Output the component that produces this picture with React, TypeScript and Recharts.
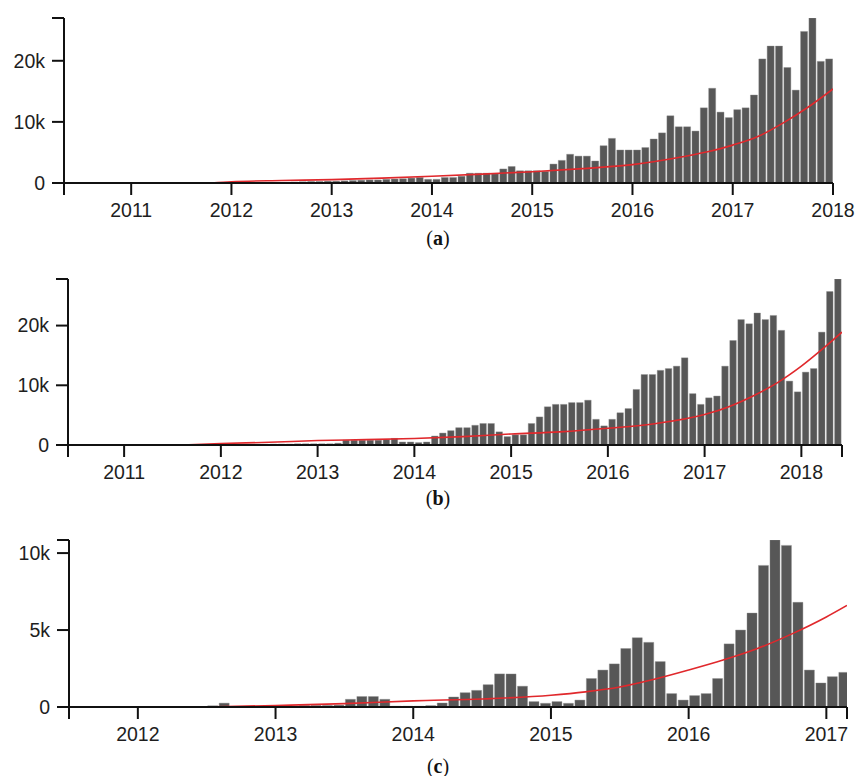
import React from 'react';
import { ComposedChart, Bar, Line, XAxis, YAxis } from 'recharts';

// ---- Panel (a): monthly counts (thousands), starting Aug 2012 ----
const startA = { year: 2012, month: 7 };
const valuesA = [
  0.15, 0.2, 0.25, 0.25, 0.3,
  0.3, 0.35, 0.4, 0.45, 0.5, 0.5, 0.6, 0.65, 0.7, 0.8, 0.9, 0.6,
  0.6, 0.9, 0.9, 1.1, 1.6, 1.6, 1.6, 1.5, 2.3, 2.7, 2.0, 2.0,
  2.0, 1.9, 3.1, 3.7, 4.7, 4.4, 4.4, 3.6, 6.1, 7.3, 5.4, 5.4,
  5.4, 5.8, 7.2, 8.2, 11.0, 9.2, 9.2, 8.5, 12.3, 15.5, 11.6, 10.7,
  12.0, 12.3, 14.4, 20.3, 22.4, 22.4, 18.9, 15.2, 24.8, 27.0, 19.9, 20.3,
];
const trendYearsA = [2011.8, 2012.0, 2012.5, 2013.0, 2013.5, 2014.0, 2014.5, 2015.0, 2015.5, 2016.0, 2016.5, 2016.75, 2017.0, 2017.25, 2017.5, 2017.75, 2018.0];
const trendValuesA = [0, 0.2, 0.4, 0.55, 0.8, 1.1, 1.45, 1.85, 2.35, 3.0, 4.3, 5.1, 6.2, 7.6, 9.8, 12.4, 15.4];
const yearTicksA = [2011, 2012, 2013, 2014, 2015, 2016, 2017, 2018];
const domainA: [number, number] = [2010.33, 2018];

// ---- Panel (b): monthly counts (thousands), starting May 2012 ----
const startB = { year: 2012, month: 4 };
const valuesB = [
  0.1, 0.1, 0.15, 0.15, 0.15, 0.2, 0.2, 0.2,
  0.2, 0.2, 0.3, 0.8, 0.8, 0.8, 0.8, 0.8, 0.9, 1.1, 0.5, 0.5,
  0.4, 0.5, 1.5, 2.0, 2.4, 2.9, 2.9, 3.3, 3.6, 3.6, 2.2, 1.4,
  1.7, 1.7, 3.6, 4.7, 6.4, 6.8, 6.8, 7.1, 7.1, 7.5, 4.3, 3.2,
  4.3, 5.4, 6.1, 9.3, 11.8, 11.8, 12.5, 12.8, 13.2, 14.6, 8.6, 6.8,
  7.9, 8.2, 13.2, 17.5, 21.0, 20.3, 22.1, 21.0, 21.7, 19.2, 10.7, 8.9,
  12.2, 12.8, 18.9, 25.7, 27.8,
];
const trendYearsB = [2011.6, 2012.0, 2012.5, 2013.0, 2013.5, 2014.0, 2014.5, 2015.0, 2015.5, 2016.0, 2016.5, 2017.0, 2017.25, 2017.5, 2017.75, 2018.0, 2018.25, 2018.42];
const trendValuesB = [0, 0.25, 0.45, 0.75, 0.9, 1.1, 1.4, 1.85, 2.2, 2.8, 3.6, 5.1, 6.4, 8.2, 10.4, 13.2, 16.5, 18.9];
const yearTicksB = [2011, 2012, 2013, 2014, 2015, 2016, 2017, 2018];
const domainB: [number, number] = [2010.42, 2018.42];

// ---- Panel (c): monthly counts (thousands), starting Jul 2012 ----
const startC = { year: 2012, month: 6 };
const valuesC = [
  0.08, 0.25, 0.03, 0.03, 0.03, 0.03,
  0.05, 0.05, 0.1, 0.1, 0.1, 0.12, 0.5, 0.68, 0.68, 0.5, 0.05, 0.05,
  0.05, 0.09, 0.26, 0.65, 0.93, 1.08, 1.45, 2.15, 2.15, 1.35, 0.35, 0.24,
  0.35, 0.24, 0.45, 1.85, 2.4, 2.8, 3.8, 4.5, 4.2, 2.95, 0.87, 0.45,
  0.74, 0.87, 1.85, 4.1, 5.0, 6.1, 9.2, 10.85, 10.5, 6.8, 2.4, 1.56,
  1.97, 2.25,
];
const trendYearsC = [2012.49, 2013.0, 2013.5, 2014.0, 2014.5, 2015.0, 2015.25, 2015.5, 2015.75, 2016.0, 2016.25, 2016.5, 2016.75, 2017.0, 2017.15];
const trendValuesC = [0, 0.1, 0.22, 0.4, 0.52, 0.76, 0.98, 1.3, 1.8, 2.4, 3.05, 3.8, 4.75, 5.85, 6.6];
const yearTicksC = [2012, 2013, 2014, 2015, 2016, 2017];
const domainC: [number, number] = [2011.5, 2017.15];

const yTicksAB = [0, 10000, 20000];
const yTicksC = [0, 5000, 10000];

function buildBars(start: { year: number; month: number }, values: number[]) {
  return values.map((v, i) => {
    const mi = start.month + i;
    const year = start.year + Math.floor(mi / 12);
    const month = mi % 12;
    return { x: year + (month + 0.5) / 12, v: v * 1000 };
  });
}

function buildTrend(years: number[], values: number[]) {
  return years.map((y, i) => ({ x: y, t: values[i] * 1000 }));
}

const tickStyle = { fontFamily: '"Liberation Sans", Arial, sans-serif', fontSize: 19.5, fill: '#1e1e1e' };

type PanelProps = {
  bars: { x: number; v: number }[];
  trend: { x: number; t: number }[];
  domain: [number, number];
  yearTicks: number[];
  yTicks: number[];
  yAxisWidth: number;
  margin: { top: number; right: number; bottom: number; left: number };
  barSize: number;
};

function Panel({ bars, trend, domain, yearTicks, yTicks, yAxisWidth, margin, barSize }: PanelProps) {
  const maxV = Math.max(...bars.map((b) => b.v));
  const xTicks = [domain[0], ...yearTicks.filter((t) => t !== domain[1]), domain[1]];
  const yAll = [...yTicks, maxV];
  return (
    <ComposedChart width={857} height={240} data={bars} margin={margin}>
      <XAxis
        xAxisId="bars"
        dataKey="x"
        type="number"
        domain={domain}
        ticks={xTicks}
        interval={0}
        allowDataOverflow
        tickFormatter={(v: number) => (Number.isInteger(v) && yearTicks.includes(v) ? String(v) : '')}
        axisLine={{ stroke: '#111', strokeWidth: 2 }}
        tickLine={{ stroke: '#111', strokeWidth: 2 }}
        tickSize={12}
        tickMargin={8}
        tick={tickStyle}
        height={40}
      />
      <XAxis xAxisId="trend" dataKey="x" type="number" domain={domain} allowDataOverflow hide />
      <YAxis
        type="number"
        domain={[0, maxV]}
        ticks={yAll}
        interval={0}
        allowDataOverflow
        tickFormatter={(v: number) => (v === maxV ? '' : v === 0 ? '0' : `${v / 1000}k`)}
        axisLine={{ stroke: '#111', strokeWidth: 2 }}
        tickLine={{ stroke: '#111', strokeWidth: 2 }}
        tickSize={12}
        tickMargin={7}
        tick={tickStyle}
        width={yAxisWidth}
      />
      <Bar xAxisId="bars" dataKey="v" fill="#575757" stroke="#8a8a8a" strokeWidth={0.4} barSize={barSize} isAnimationActive={false} />
      <Line
        xAxisId="trend"
        data={trend}
        dataKey="t"
        type="monotone"
        stroke="#e0282c"
        strokeWidth={1.6}
        dot={false}
        activeDot={false}
        isAnimationActive={false}
      />
    </ComposedChart>
  );
}

const labelStyle: React.CSSProperties = {
  position: 'absolute',
  fontFamily: '"Liberation Serif", "Times New Roman", serif',
  fontSize: 20,
  lineHeight: '20px',
  color: '#111',
  transform: 'translateX(-50%)',
  whiteSpace: 'nowrap',
};

export default function App() {
  return (
    <div style={{ position: 'absolute', left: 0, top: 0, width: 857, height: 776, background: '#fff', overflow: 'hidden' }}>
      <div style={{ position: 'absolute', left: 0, top: 0 }}>
        <Panel
          bars={buildBars(startA, valuesA)}
          trend={buildTrend(trendYearsA, trendValuesA)}
          domain={domainA}
          yearTicks={yearTicksA}
          yTicks={yTicksAB}
          yAxisWidth={64}
          margin={{ top: 18, right: 24, bottom: 17, left: 0 }}
          barSize={7}
        />
      </div>
      <div style={{ ...labelStyle, left: 438, top: 228 }}>
        (<b>a</b>)
      </div>
      <div style={{ position: 'absolute', left: 0, top: 260 }}>
        <Panel
          bars={buildBars(startB, valuesB)}
          trend={buildTrend(trendYearsB, trendValuesB)}
          domain={domainB}
          yearTicks={yearTicksB}
          yTicks={yTicksAB}
          yAxisWidth={68}
          margin={{ top: 19, right: 15, bottom: 15, left: 0 }}
          barSize={6.5}
        />
      </div>
      <div style={{ ...labelStyle, left: 438, top: 488 }}>
        (<b>b</b>)
      </div>
      <div style={{ position: 'absolute', left: 0, top: 520 }}>
        <Panel
          bars={buildBars(startC, valuesC)}
          trend={buildTrend(trendYearsC, trendValuesC)}
          domain={domainC}
          yearTicks={yearTicksC}
          yTicks={yTicksC}
          yAxisWidth={69}
          margin={{ top: 20, right: 10, bottom: 13, left: 0 }}
          barSize={10}
        />
      </div>
      <div style={{ ...labelStyle, left: 438, top: 756 }}>
        (<b>c</b>)
      </div>
    </div>
  );
}
